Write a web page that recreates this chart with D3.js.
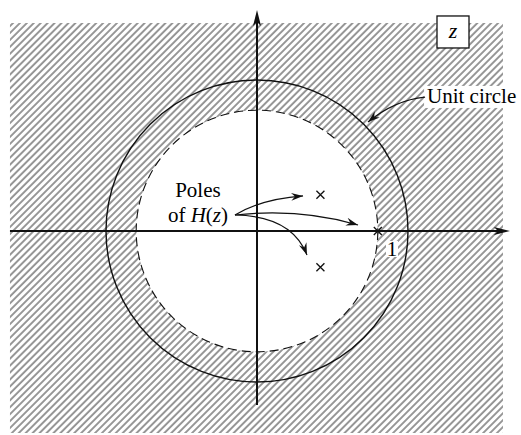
<!DOCTYPE html>
<html><head><meta charset="utf-8">
<script src="https://cdn.jsdelivr.net/npm/d3@7"></script>
<style>body{margin:0;background:#fff}</style></head>
<body><svg id="c" width="521" height="435"></svg>
<script>
// ---- data (in z-plane units) ----
const unitRadius = [1];                 // unit circle
const rocRadius = [0.8];                // ROC boundary |z| = 0.8 (largest pole)
const poleRe = [0.42, 0.42, 0.8];
const poleIm = [0.24, -0.24, 0];
const axisXExtent = [-1.636, 1.675];
const axisYExtent = [-1.152, 1.464];
const hatchX = [-1.636, 1.629];
const hatchY = [-1.338, 1.377];
const tickValues = [1];
const tickLabels = ["1"];
const poleLabelLines = ["Poles", "of "];
const unitLabel = ["Unit circle"];
const planeLabel = ["z"];
// annotation arrows (start, control, end)
const poleArrowStart = [-0.146, 0.106];
const poleArrowCtrl = [[0.033, 0.212], [0.285, 0.152], [0.232, 0.099]];
const poleArrowEnd = [[0.305, 0.232], [0.669, 0.040], [0.331, -0.159]];
const unitArrow = [[1.113, 0.887], [0.914, 0.868], [0.735, 0.722]];

const svg = d3.select("#c");
const x = d3.scaleLinear().domain([-1, 1]).range([106, 408]);
const y = d3.scaleLinear().domain([-1, 1]).range([382, 80]);
const rpx = r => x(r) - x(0);
const serif = "'Liberation Serif','DejaVu Serif',serif";

// hatch pattern
const defs = svg.append("defs");
const pat = defs.append("pattern").attr("id", "hatch")
  .attr("patternUnits", "userSpaceOnUse").attr("width", 4.9).attr("height", 20)
  .attr("patternTransform", "rotate(45)");
pat.append("line").attr("x1", 1).attr("x2", 1).attr("y1", 0).attr("y2", 20)
  .attr("stroke", "#222").attr("stroke-width", 0.95);

defs.append("marker").attr("id", "ah").attr("viewBox", "-12 -5 14 10")
  .attr("refX", 0).attr("refY", 0).attr("markerWidth", 14).attr("markerHeight", 10)
  .attr("markerUnits", "userSpaceOnUse").attr("orient", "auto")
  .append("path").attr("d", "M0,0 L-12,-4 L-8,0 L-12,4 Z").attr("fill", "#111");

// hatched region = rectangle minus ROC disc
const hp = d3.path();
hp.rect(x(hatchX[0]), y(hatchY[1]), x(hatchX[1]) - x(hatchX[0]), y(hatchY[0]) - y(hatchY[1]));
hp.moveTo(x(rocRadius[0]), y(0));
hp.arc(x(0), y(0), rpx(rocRadius[0]), 0, 2 * Math.PI);
hp.closePath();
svg.append("path").attr("d", hp.toString()).attr("fill", "url(#hatch)").attr("fill-rule", "evenodd");

// ROC dashed circle
svg.selectAll(".roc").data(rocRadius).join("circle")
  .attr("cx", x(0)).attr("cy", y(0)).attr("r", d => rpx(d))
  .attr("fill", "none").attr("stroke", "#111").attr("stroke-width", 1.1)
  .attr("stroke-dasharray", "9,5");

// unit circle
svg.selectAll(".uc").data(unitRadius).join("circle")
  .attr("cx", x(0)).attr("cy", y(0)).attr("r", d => rpx(d))
  .attr("fill", "none").attr("stroke", "#111").attr("stroke-width", 1.4);

// axes
svg.append("line").attr("x1", x(axisXExtent[0])).attr("x2", x(axisXExtent[1]) - 8)
  .attr("y1", y(0)).attr("y2", y(0)).attr("stroke", "#111").attr("stroke-width", 2);
svg.append("line").attr("x1", x(0)).attr("x2", x(0))
  .attr("y1", y(axisYExtent[0])).attr("y2", y(axisYExtent[1]) + 8)
  .attr("stroke", "#111").attr("stroke-width", 2);
const ax = x(axisXExtent[1]), ay = y(axisYExtent[1]);
svg.append("path").attr("d", `M${ax},${y(0)} L${ax - 16},${y(0) - 4} L${ax - 12},${y(0)} L${ax - 16},${y(0) + 4} Z`).attr("fill", "#111");
svg.append("path").attr("d", `M${x(0)},${ay} L${x(0) - 4},${ay + 16} L${x(0)},${ay + 12} L${x(0) + 4},${ay + 16} Z`).attr("fill", "#111");

// tick label "1"
tickValues.forEach((v, i) => {
  svg.append("rect").attr("x", x(v) - 22).attr("y", y(0) + 10).attr("width", 12).attr("height", 16).attr("fill", "#fff");
  svg.append("text").attr("x", x(v) - 16).attr("y", y(0) + 25)
    .attr("text-anchor", "middle").attr("font-family", serif).attr("font-size", 21)
    .text(tickLabels[i]);
});

// poles
const poles = poleRe.map((re, i) => [re, poleIm[i]]);
const s = 4;
svg.selectAll(".pole").data(poles).join("path")
  .attr("d", d => `M${x(d[0]) - s},${y(d[1]) - s}L${x(d[0]) + s},${y(d[1]) + s}M${x(d[0]) - s},${y(d[1]) + s}L${x(d[0]) + s},${y(d[1]) - s}`)
  .attr("stroke", "#111").attr("stroke-width", 1.3).attr("fill", "none");

// pole label arrows
poleArrowEnd.forEach((e, i) => {
  const p = d3.path();
  p.moveTo(x(poleArrowStart[0]), y(poleArrowStart[1]));
  p.quadraticCurveTo(x(poleArrowCtrl[i][0]), y(poleArrowCtrl[i][1]), x(e[0]), y(e[1]));
  svg.append("path").attr("d", p.toString()).attr("fill", "none")
    .attr("stroke", "#111").attr("stroke-width", 1.2).attr("marker-end", "url(#ah)");
});

// pole label text
const tl = svg.append("text").attr("font-family", serif).attr("font-size", 21).attr("text-anchor", "middle");
tl.append("tspan").attr("x", x(-0.391)).attr("y", y(0.225)).text(poleLabelLines[0]);
const t2 = tl.append("tspan").attr("x", x(-0.391)).attr("y", y(0.06));
t2.text(poleLabelLines[1]);
tl.append("tspan").attr("font-style", "italic").text("H");
tl.append("tspan").text("(");
tl.append("tspan").attr("font-style", "italic").text("z");
tl.append("tspan").text(")");

// unit circle label
svg.append("rect").attr("x", x(1.113) - 1).attr("y", y(0.848) - 17).attr("width", 96).attr("height", 22).attr("fill", "#fff");
svg.append("text").attr("x", x(1.126)).attr("y", y(0.848))
  .attr("font-family", serif).attr("font-size", 21).text(unitLabel[0]);
const up = d3.path();
up.moveTo(x(unitArrow[0][0]), y(unitArrow[0][1]));
up.quadraticCurveTo(x(unitArrow[1][0]), y(unitArrow[1][1]), x(unitArrow[2][0]), y(unitArrow[2][1]));
svg.append("path").attr("d", up.toString()).attr("fill", "none")
  .attr("stroke", "#111").attr("stroke-width", 1.2).attr("marker-end", "url(#ah)");

// z-plane box
const bx = x(1.298), by = y(1.318);
svg.append("rect").attr("x", bx - 16).attr("y", by - 16).attr("width", 32).attr("height", 32)
  .attr("fill", "#fff").attr("stroke", "#111").attr("stroke-width", 1.3);
svg.append("text").attr("x", bx).attr("y", by + 6).attr("text-anchor", "middle")
  .attr("font-family", serif).attr("font-style", "italic").attr("font-size", 22).text(planeLabel[0]);
</script></body></html>
